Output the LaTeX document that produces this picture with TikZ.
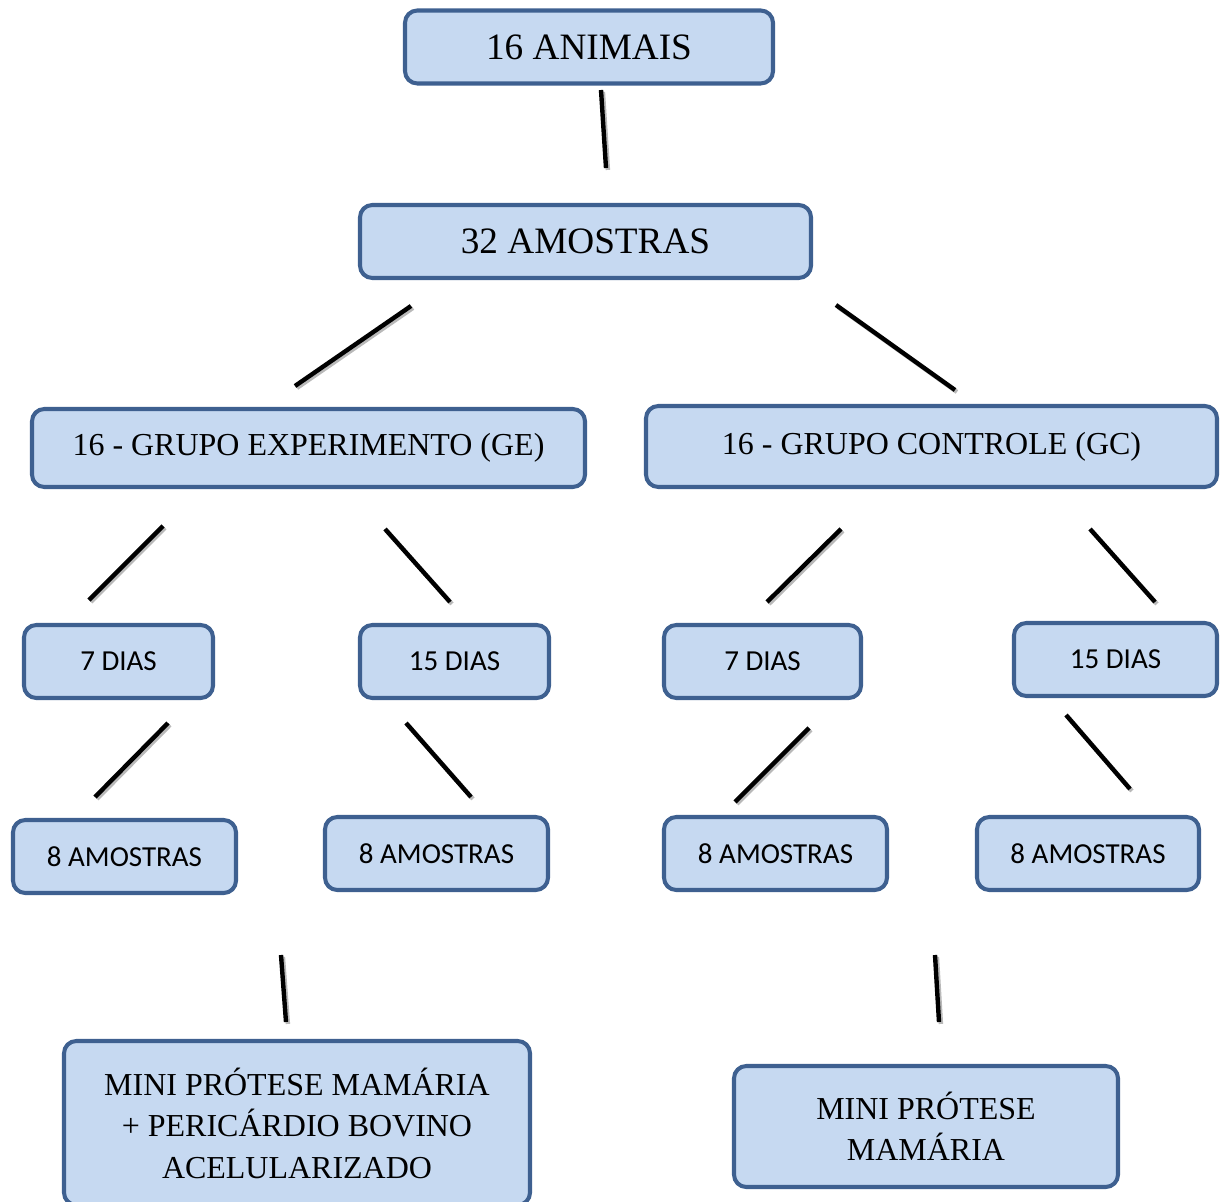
\documentclass[tikz,border=0pt]{standalone}
\usepackage{fontspec}
\setmainfont{Liberation Serif}
\newfontfamily\calib{Carlito}
\definecolor{boxfill}{HTML}{C6D9F1}
\definecolor{boxline}{HTML}{3E6090}
\tikzset{
  caixa/.style={draw=boxline, fill=boxfill, line width=2.3pt, rounded corners=7pt, align=center, inner sep=0pt},
  grande/.style={caixa, font=\fontsize{21.2}{26}\selectfont},
  media/.style={caixa, font=\fontsize{18.2}{23.6}\selectfont},
  pequena/.style={caixa, font=\calib\fontsize{16.5}{19}\selectfont},
  traco/.style={line width=2.5pt, black, line cap=butt,
    preaction={draw=gray!55, line width=2.5pt, transform canvas={shift={(1.1pt,-1.1pt)}}}}
}
\begin{document}
\begin{tikzpicture}[x=0.02cm, y=-0.02cm]
		\useasboundingbox (0,0) rectangle (1220,1202);
		\clip (0,0) rectangle (1220,1202);
		% caixas
		\node[grande, minimum width=368*0.02cm, minimum height=73*0.02cm] (animais) at (589,47) {16 ANIMAIS};
		\node[grande, minimum width=451*0.02cm, minimum height=73*0.02cm] (amostras) at (585.5,241.5) {32 AMOSTRAS};
		\node[media, minimum width=553*0.02cm, minimum height=78*0.02cm] (ge) at (308.5,448) {16 - GRUPO EXPERIMENTO (GE)};
		\node[media, minimum width=571*0.02cm, minimum height=81*0.02cm] (gc) at (931.5,446.5) {16 - GRUPO CONTROLE (GC)};
		\node[pequena, minimum width=189*0.02cm, minimum height=73*0.02cm] (ge7) at (118.5,661.5) {7 DIAS};
		\node[pequena, minimum width=189*0.02cm, minimum height=73*0.02cm] (ge15) at (454.5,661.5) {15 DIAS};
		\node[pequena, minimum width=197*0.02cm, minimum height=73*0.02cm] (gc7) at (762.5,661.5) {7 DIAS};
		\node[pequena, minimum width=203*0.02cm, minimum height=73*0.02cm] (gc15) at (1115.5,659.5) {15 DIAS};
		\node[pequena, minimum width=223*0.02cm, minimum height=73*0.02cm] (ge7a) at (124.5,856.5) {8 AMOSTRAS};
		\node[pequena, minimum width=223*0.02cm, minimum height=73*0.02cm] (ge15a) at (436.5,853.5) {8 AMOSTRAS};
		\node[pequena, minimum width=223*0.02cm, minimum height=73*0.02cm] (gc7a) at (775.5,853.5) {8 AMOSTRAS};
		\node[pequena, minimum width=222*0.02cm, minimum height=73*0.02cm] (gc15a) at (1088,853.5) {8 AMOSTRAS};
		\node[media, minimum width=466*0.02cm, minimum height=164*0.02cm] (protge) at (297,1123) {MINI PRÓTESE MAMÁRIA\\+ PERICÁRDIO BOVINO\\ACELULARIZADO};
		\node[media, minimum width=384*0.02cm, minimum height=121*0.02cm] (protgc) at (926,1126.5) {MINI PRÓTESE\\MAMÁRIA};
		% tracos
		\coordinate (t1a) at (601,90);   \coordinate (t1b) at (606,168);
		\coordinate (t2a) at (411,306);  \coordinate (t2b) at (295,386);
		\coordinate (t3a) at (836,305);  \coordinate (t3b) at (955,390);
		\coordinate (t4a) at (163,526);  \coordinate (t4b) at (89,600);
		\coordinate (t5a) at (385,529);  \coordinate (t5b) at (450,602);
		\coordinate (t6a) at (841,529);  \coordinate (t6b) at (767,602);
		\coordinate (t7a) at (1090,529); \coordinate (t7b) at (1155,602);
		\coordinate (t8a) at (168,723);  \coordinate (t8b) at (95,797);
		\coordinate (t9a) at (406,723);  \coordinate (t9b) at (471,797);
		\coordinate (t10a) at (809,728); \coordinate (t10b) at (735,802);
		\coordinate (t11a) at (1066,715); \coordinate (t11b) at (1130,789);
		\coordinate (t12a) at (281,955); \coordinate (t12b) at (286,1022);
		\coordinate (t13a) at (935,955); \coordinate (t13b) at (939,1022);
		\foreach \i in {1,...,13} \draw[traco] (t\i a) -- (t\i b);
	\end{tikzpicture}
\end{document}
